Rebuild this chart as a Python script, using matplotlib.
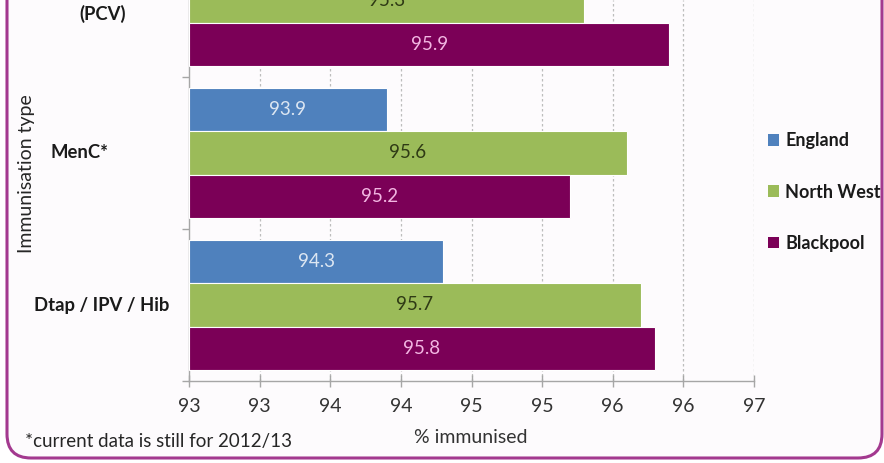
import numpy as np
import matplotlib
matplotlib.use("Agg")
import matplotlib.pyplot as plt
from matplotlib.patches import FancyBboxPatch, Patch
from matplotlib.transforms import IdentityTransform, blended_transform_factory

plt.rcParams['font.family'] = ['Lato', 'DejaVu Sans']

# categories, bottom to top
categories = ["Dtap / IPV / Hib", "MenC*", "Pneumococcal\n(PCV)"]
series = ["England", "North West", "Blackpool"]
england = [94.3, 93.9, 94.5]
north_west = [95.7, 95.6, 95.3]
blackpool = [95.8, 95.2, 95.9]
values = [england, north_west, blackpool]

xticks = [92.5, 93.0, 93.5, 94.0, 94.5, 95.0, 95.5, 96.0, 96.5]
xtick_labels = ["93", "93", "94", "94", "95", "95", "96", "96", "97"]

colors = ["#4F81BD", "#9BBB59", "#7B0057"]
label_colors = ["#DCE6F2", "#2F3A15", "#F2B6E2"]

fig = plt.figure(figsize=(8.84, 4.63), dpi=100)
fig.patch.set_facecolor("white")

# slide frame with rounded corners (top runs off the picture)
frame = FancyBboxPatch((7, 463 - 458), 875, 600,
                       boxstyle="round,pad=0,rounding_size=24",
                       transform=IdentityTransform(),
                       facecolor="#FDFBFD", edgecolor="#A3398F", linewidth=2.2,
                       zorder=-5)
fig.patches.append(frame)

ax = fig.add_axes([189 / 884, 82 / 463, 565 / 884, 381 / 463])
ax.set_facecolor("none")

y = np.arange(len(categories))
h = 0.283
offsets = [h, 0, -h]
for vals, off, c, lc in zip(values, offsets, colors, label_colors):
    bars = ax.barh(y + off, np.array(vals) - xticks[0], left=xticks[0], height=h,
                   color=c, edgecolor="white", linewidth=0.8, zorder=3)
    for b, v in zip(bars, vals):
        ax.text(xticks[0] + (v - xticks[0]) / 2, b.get_y() + h / 2, f"{v:.1f}",
                ha="center", va="center", fontsize=13.5, color=lc, zorder=4)

ax.set_xticks(xticks)
ax.set_xticklabels(xtick_labels, fontsize=14, color="#333333")
ax.tick_params(axis="x", direction="inout", length=9, width=1, color="#A6A6A6", pad=8)
for xt in xticks[1:]:
    ax.axvline(xt, color="#BDBDBD", linestyle=(0, (2, 2)), linewidth=0.9, zorder=1)

ax.set_yticks(np.arange(len(categories) + 1) - 0.5)
ax.set_yticklabels([])
ax.tick_params(axis="y", direction="out", length=5, width=1, color="#A6A6A6")

# limits after the ticks so the top tick does not stretch the view
ax.set_xlim(xticks[0], xticks[-1])
ax.set_ylim(-0.5, -0.5 + 381 / 152)

for side in ["top", "right"]:
    ax.spines[side].set_visible(False)
for side in ["left", "bottom"]:
    ax.spines[side].set_color("#A6A6A6")
    ax.spines[side].set_linewidth(1)

# category labels in the left margin
cat_x = [102 / 884, 80 / 884, 103 / 884]
tr = blended_transform_factory(fig.transFigure, ax.transData)
for cx, cat, yy in zip(cat_x, categories, y):
    ax.text(cx, yy, cat, transform=tr, ha="center", va="center",
            fontsize=13.3, fontweight="bold", color="#1A1A1A", linespacing=1.6,
            clip_on=False)

ax.set_xlabel("% immunised", fontsize=14, color="#333333")
ax.xaxis.set_label_coords(0.499, -0.147)
ax.xaxis.label.set_va("center")

fig.text(27 / 884, 1 - 174 / 463, "Immunisation type", rotation=90,
         ha="center", va="center", fontsize=14, color="#262626")

fig.text(25 / 884, 1 - 442 / 463, "*current data is still for 2012/13",
         ha="left", va="center", fontsize=13.5, color="#262626")

handles = [Patch(facecolor=c, edgecolor="none") for c in colors]
leg = fig.legend(handles, series, loc="center left",
                 bbox_to_anchor=(752 / 884, 1 - 192 / 463), frameon=False,
                 handlelength=0.6, handleheight=0.6, handletextpad=0.35,
                 labelspacing=1.9, prop={"size": 13, "weight": "bold"})
for t in leg.get_texts():
    t.set_color("#1A1A1A")

fig.savefig("out.png", dpi=100, facecolor="white")
